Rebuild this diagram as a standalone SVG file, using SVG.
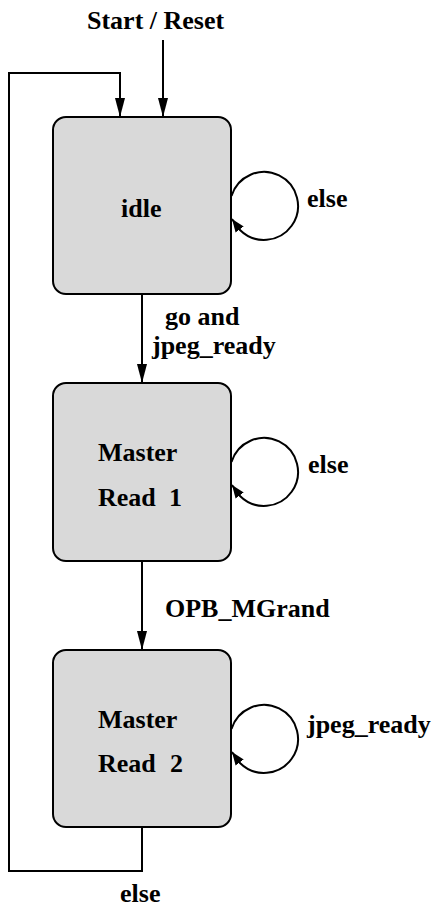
<svg xmlns="http://www.w3.org/2000/svg" width="436" height="909" viewBox="0 0 436 909">
  <style>
    .state { fill: #d9d9d9; stroke: #000; stroke-width: 2; }
    .edge { fill: none; stroke: #000; stroke-width: 2; }
    .arrow { marker-end: url(#head); }
    .loop { marker-end: url(#loophead); }
  </style>
  <defs>
    <marker id="head" markerUnits="userSpaceOnUse" markerWidth="20" markerHeight="12" viewBox="0 -6 20 12" refX="19" refY="0" orient="auto">
      <path d="M0,-5 L19,0 L0,5 Z" fill="#000"/>
    </marker>
    <marker id="loophead" markerUnits="userSpaceOnUse" markerWidth="14" markerHeight="12" viewBox="0 -6 14 12" refX="13" refY="0" orient="auto">
      <path d="M0,-5 L13,0 L0,5 Z" fill="#000"/>
    </marker>
  </defs>

  <g font-family="Liberation Serif, Times New Roman, serif" font-weight="bold" font-size="26" fill="#000">
    <!-- entry label -->
    <text x="87" y="29">Start / Reset</text>

    <!-- states -->
    <g id="idle">
      <rect class="state" x="53" y="117" width="178" height="177" rx="13"/>
      <text x="121" y="217">idle</text>
    </g>
    <g id="master-read-1">
      <rect class="state" x="53" y="383" width="178" height="178" rx="13"/>
      <text x="98" y="461">Master</text>
      <text x="98" y="506">Read<tspan x="169">1</tspan></text>
    </g>
    <g id="master-read-2">
      <rect class="state" x="53" y="650" width="178" height="177" rx="13"/>
      <text x="98" y="728">Master</text>
      <text x="98" y="772">Read<tspan x="170">2</tspan></text>
    </g>

    <!-- transitions -->
    <g id="connectors">
      <path class="edge arrow" d="M163 40 V117"/>
      <path class="edge arrow" d="M142 827 V871 H9 V73 H120 V117"/>
      <path class="edge arrow" d="M142 294 V383"/>
      <path class="edge arrow" d="M142 561 V650"/>
      <!-- self loops -->
      <path class="edge loop" d="M231.5 196 A34 34 0 1 1 240 230 L232 219"/>
      <path class="edge loop" d="M231.5 462 A34 34 0 1 1 240 496 L232 485"/>
      <path class="edge loop" d="M231.5 729 A34 34 0 1 1 240 763 L232 752"/>
    </g>

    <!-- transition labels -->
    <g id="labels">
      <text x="307" y="207">else</text>
      <text x="165" y="325">go and</text>
      <text x="152" y="354">jpeg_ready</text>
      <text x="308" y="473">else</text>
      <text x="165" y="617">OPB_MGrand</text>
      <text x="307" y="733">jpeg_ready</text>
      <text x="120" y="902">else</text>
    </g>
  </g>
</svg>
